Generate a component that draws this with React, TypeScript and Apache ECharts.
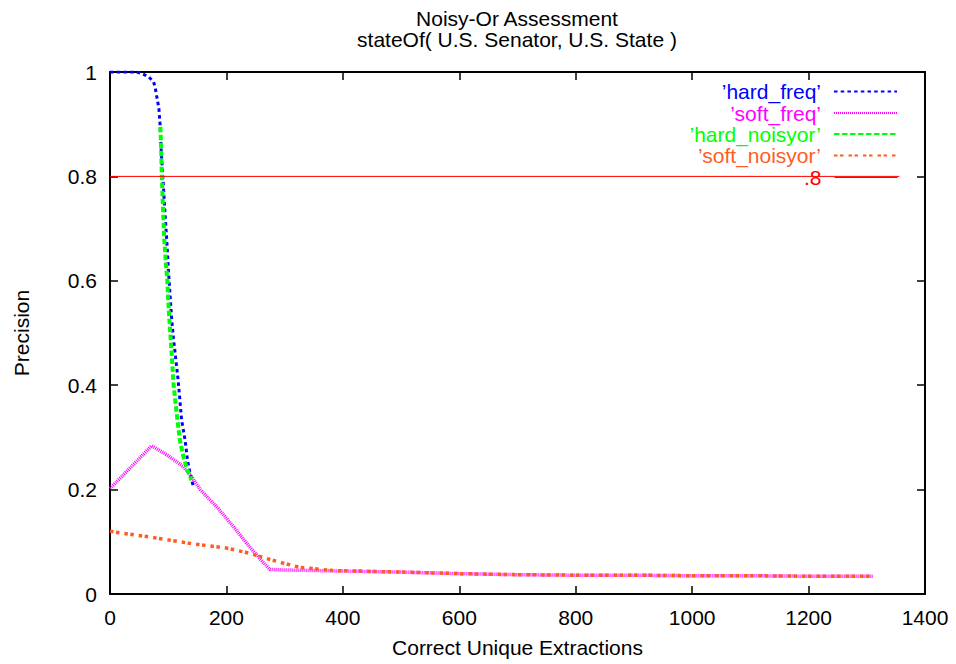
import React, { useEffect, useRef } from "react";
import * as echarts from "echarts";

// Precision vs. number of correct unique extractions, stateOf(U.S. Senator, U.S. State)
const hardFreq: [number, number][] = [
  [0, 1], [46, 1], [57, 0.996], [67, 0.99], [75, 0.981], [78, 0.968], [80, 0.955],
  [82, 0.943], [84, 0.93], [85, 0.915], [86, 0.9], [87, 0.87], [89, 0.83], [91, 0.795],
  [94.5, 0.729], [97.5, 0.678], [100, 0.627], [103, 0.576], [106, 0.525], [109, 0.49],
  [113, 0.45], [117, 0.41], [120, 0.372], [123, 0.333], [129, 0.295], [133, 0.257],
  [137.5, 0.231], [143, 0.207],
];

const softFreq: [number, number][] = [
  [0, 0.202], [71.6, 0.284], [100, 0.265], [126, 0.244], [140, 0.225], [155, 0.2],
  [185, 0.165], [212, 0.129], [240, 0.09], [262, 0.062], [275, 0.047], [300, 0.046],
  [400, 0.044], [500, 0.042], [600, 0.039], [700, 0.037], [800, 0.036], [900, 0.036],
  [1000, 0.035], [1100, 0.035], [1200, 0.034], [1311, 0.034],
];

const hardNoisyor: [number, number][] = [
  [86.5, 0.895], [88, 0.85], [89, 0.8], [90.5, 0.755], [91.6, 0.723], [93.3, 0.678],
  [96, 0.633], [98.5, 0.6], [100, 0.563], [102, 0.525], [104, 0.493], [106.5, 0.45],
  [109, 0.404], [114.5, 0.346], [120, 0.295], [126, 0.263], [133, 0.238], [140, 0.218],
];

const softNoisyor: [number, number][] = [
  [0, 0.12], [69, 0.109], [137, 0.097], [200, 0.088], [240, 0.078], [269, 0.068],
  [298, 0.059], [326, 0.051], [383, 0.045], [500, 0.042], [600, 0.039], [700, 0.037],
  [800, 0.036], [900, 0.036], [1000, 0.035], [1100, 0.035], [1200, 0.034], [1311, 0.034],
];

// Horizontal reference at precision .8
const thresholdValue = 0.8;
const thresholdRange = [0, 1356];

const seriesNames = ["’hard_freq’", "’soft_freq’", "’hard_noisyor’", "’soft_noisyor’", ".8"];
const seriesColors = ["#0000ff", "#ff00ff", "#00ff00", "#ff5d1f", "#ff0000"];

const xTicks = { min: 0, max: 1400, interval: 200 };
const yTicks = { min: 0, max: 1, interval: 0.2 };

const FONT = "'Liberation Sans', Arial, Helvetica, sans-serif";
const FS = 21;

export default function App() {
  const ref = useRef<HTMLDivElement>(null);

  useEffect(() => {
    if (!ref.current) return;
    const chart = echarts.init(ref.current, undefined, { renderer: "svg" });

    const frameAxis = {
      axisLine: { show: true, onZero: false, lineStyle: { color: "#000", width: 2 } },
      axisTick: { show: true, inside: true, length: 8, lineStyle: { color: "#000", width: 1.5 } },
      splitLine: { show: false },
    };

    // one key entry per row: right-aligned text with the line sample after it
    const legendTops = [81, 102.5, 123.5, 145, 167];
    const legends = seriesNames.map((name, i) => ({
      data: [name],
      orient: "vertical",
      right: 58,
      top: legendTops[i],
      align: "right",
      itemWidth: 63,
      itemHeight: 20,
      itemGap: 0,
      padding: 0,
      selectedMode: false,
      itemStyle: { opacity: 0 },
      ...(i === 4 ? { lineStyle: { width: 1 } } : {}),
      textStyle: {
        color: seriesColors[i],
        fontSize: FS,
        lineHeight: 20,
        fontFamily: FONT,
        padding: [0, 8, 0, 0],
      },
    }));

    const dashed = (data: [number, number][], i: number, width: number, type: number[]) => ({
      name: seriesNames[i],
      type: "line",
      data,
      symbol: "none",
      showSymbol: false,
      lineStyle: { color: seriesColors[i], width, type },
      itemStyle: { color: seriesColors[i] },
    });

    chart.setOption({
      animation: false,
      textStyle: { fontFamily: FONT },
      title: {
        text: "Noisy-Or Assessment\nstateOf( U.S. Senator, U.S. State )",
        left: 517,
        top: 8,
        padding: 0,
        textAlign: "center",
        textStyle: { fontSize: FS, fontWeight: "normal", color: "#000", lineHeight: 21, fontFamily: FONT },
      },
      legend: legends,
      grid: { left: 110, right: 31, top: 72, bottom: 70, containLabel: false },
      xAxis: [
        {
          type: "value",
          position: "bottom",
          ...xTicks,
          name: "Correct Unique Extractions",
          nameLocation: "middle",
          nameGap: 43,
          nameTextStyle: { fontSize: FS, color: "#000", fontFamily: FONT },
          axisLabel: {
            fontSize: FS,
            color: "#000",
            margin: 13,
            fontFamily: FONT,
            formatter: (v: number) => String(v),
          },
          ...frameAxis,
        },
        {
          type: "value",
          position: "top",
          ...xTicks,
          axisLabel: { show: false },
          ...frameAxis,
        },
      ],
      yAxis: [
        {
          type: "value",
          position: "left",
          ...yTicks,
          name: "Precision",
          nameLocation: "middle",
          nameGap: 78,
          nameRotate: 90,
          nameTextStyle: { fontSize: FS, color: "#000", fontFamily: FONT },
          axisLabel: { fontSize: FS, color: "#000", margin: 13, fontFamily: FONT },
          ...frameAxis,
        },
        {
          type: "value",
          position: "right",
          ...yTicks,
          axisLabel: { show: false },
          ...frameAxis,
        },
      ],
      series: [
        dashed(hardFreq, 0, 3, [3.5, 3.2]),
        dashed(softFreq, 1, 3.5, [1, 1]),
        dashed(hardNoisyor, 2, 4, [5.5, 2.5]),
        dashed(softNoisyor, 3, 3.5, [3.5, 2.5, 3.5, 5]),
        {
          name: seriesNames[4],
          type: "line",
          data: thresholdRange.map((x) => [x, thresholdValue]),
          symbol: "none",
          showSymbol: false,
          lineStyle: { color: seriesColors[4], width: 1, type: "solid" },
          itemStyle: { color: seriesColors[4] },
        },
      ],
    });

    return () => chart.dispose();
  }, []);

  return (
    <div
      ref={ref}
      style={{ position: "fixed", left: 0, top: 0, width: 956, height: 664, background: "#fff" }}
    />
  );
}
